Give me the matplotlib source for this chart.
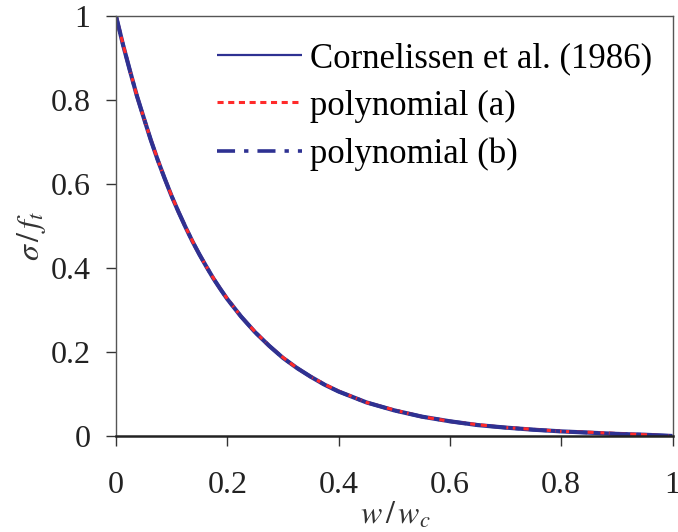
import matplotlib
matplotlib.use("Agg")
import matplotlib.pyplot as plt

# data
w = [0.0, 0.0125, 0.025, 0.0375, 0.05, 0.0625, 0.075, 0.0875, 0.1, 0.1125,
     0.125, 0.1375, 0.15, 0.1625, 0.175, 0.1875, 0.2, 0.225, 0.25, 0.275,
     0.3, 0.325, 0.35, 0.375, 0.4, 0.45, 0.5, 0.55, 0.6, 0.65, 0.7, 0.75,
     0.8, 0.85, 0.9, 0.95, 1.0]
cornelissen = [1.0, 0.932, 0.87, 0.81, 0.757, 0.705, 0.657, 0.613, 0.571,
               0.533, 0.497, 0.463, 0.432, 0.403, 0.375, 0.35, 0.326, 0.284,
               0.247, 0.215, 0.186, 0.162, 0.141, 0.122, 0.106, 0.080, 0.061,
               0.046, 0.035, 0.026, 0.020, 0.015, 0.011, 0.008, 0.005, 0.003,
               0.0]
poly_a = [1.0, 0.933, 0.871, 0.81, 0.757, 0.706, 0.658, 0.613, 0.572,
          0.533, 0.497, 0.464, 0.432, 0.403, 0.376, 0.35, 0.327, 0.284,
          0.248, 0.215, 0.187, 0.162, 0.141, 0.123, 0.107, 0.080, 0.062,
          0.046, 0.035, 0.027, 0.020, 0.016, 0.011, 0.009, 0.006, 0.003,
          0.0]
poly_b = [1.0, 0.932, 0.87, 0.81, 0.757, 0.705, 0.657, 0.613, 0.571,
          0.533, 0.497, 0.463, 0.432, 0.403, 0.375, 0.35, 0.326, 0.284,
          0.247, 0.215, 0.186, 0.162, 0.141, 0.122, 0.106, 0.080, 0.061,
          0.046, 0.035, 0.026, 0.020, 0.015, 0.011, 0.008, 0.005, 0.003,
          0.0]
ticks = [0, 0.2, 0.4, 0.6, 0.8, 1]
tick_labels = ["0", "0.2", "0.4", "0.6", "0.8", "1"]

plt.rcParams['font.family'] = ['Liberation Serif', 'DejaVu Serif']
plt.rcParams['mathtext.fontset'] = 'stix'

BLUE = "#2E3192"
RED = "#FF2A2A"
W, H = 678, 532

fig = plt.figure(figsize=(6.78, 5.32), dpi=100)
ax = fig.add_axes([116/W, 96/H, 556.5/W, 420/H])

ax.plot(w, cornelissen, color=BLUE, lw=3.0, solid_capstyle='butt',
        label="Cornelissen et al. (1986)")
ax.plot(w, poly_a, color=RED, lw=2.2, linestyle=(0, (2, 1.5)),
        label="polynomial (a)")
ax.plot(w, poly_b, color=BLUE, lw=2.6, linestyle=(0, (5, 2.5, 1.2, 2.5)),
        label="polynomial (b)")

h, l = ax.get_legend_handles_labels()
leg = fig.legend(h, l, loc='upper left', frameon=False, fontsize=25,
                 handlelength=2.45, handletextpad=0.22, labelspacing=0.42,
                 bbox_to_anchor=(217/W, 1 - 42/H), borderaxespad=0,
                 borderpad=0)
leg.get_lines()[0].set_linewidth(1.6)

ax.set_xlim(0, 1)
ax.set_ylim(0, 1)
ax.set_xticks(ticks)
ax.set_xticklabels(tick_labels)
ax.set_yticks(ticks)
ax.set_yticklabels(tick_labels)
ax.tick_params(axis='both', direction='out', length=7.5, width=1.0,
               labelsize=23, colors='#333333', labelcolor='#222222')
ax.tick_params(axis='x', pad=18)
ax.tick_params(axis='y', pad=11)

for s in ['left', 'top', 'right']:
    ax.spines[s].set_color('#555555')
    ax.spines[s].set_linewidth(1.0)
ax.spines['bottom'].set_color('#222222')
ax.spines['bottom'].set_linewidth(1.8)

fig.text(395/W, 1 - 516/H, r"$w\,/\,w_c$", fontsize=23, color='#333333',
         ha='center', va='center')
fig.text(32/W, 1 - 236/H, r"$\sigma\,/\,f_t$", fontsize=23, color='#333333',
         ha='center', va='center', rotation=90)

fig.savefig("out.png", dpi=100)
